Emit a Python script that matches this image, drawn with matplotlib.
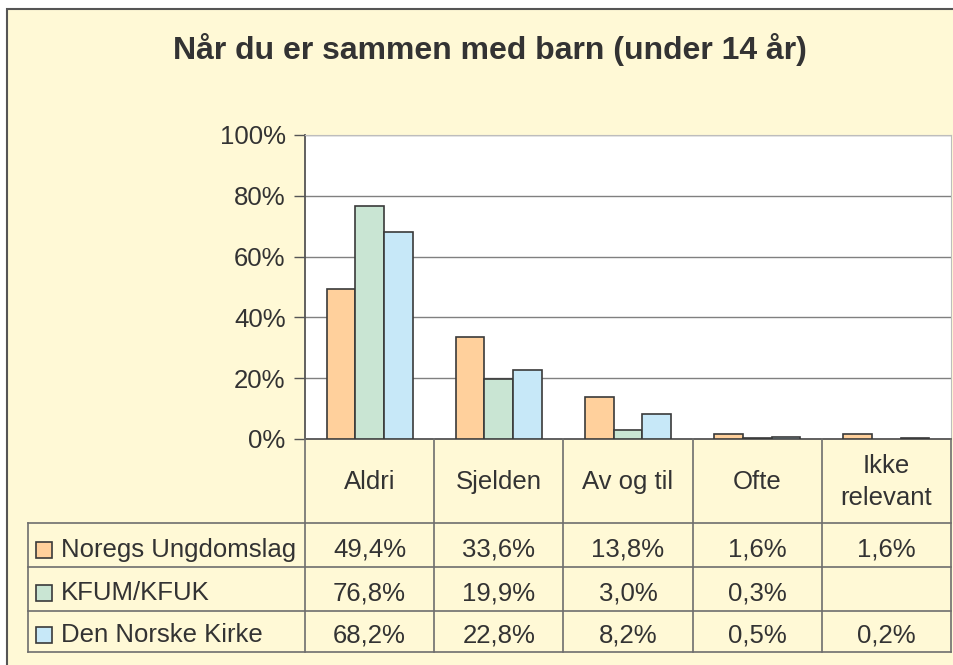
import numpy as np
import matplotlib.pyplot as plt
from matplotlib.patches import Rectangle
from matplotlib.lines import Line2D
from matplotlib.transforms import blended_transform_factory

# data
categories = ["Aldri", "Sjelden", "Av og til", "Ofte", "Ikke\nrelevant"]
series_names = ["Noregs Ungdomslag", "KFUM/KFUK", "Den Norske Kirke"]
noregs_ungdomslag = [49.4, 33.6, 13.8, 1.6, 1.6]
kfum_kfuk = [76.8, 19.9, 3.0, 0.3, np.nan]
den_norske_kirke = [68.2, 22.8, 8.2, 0.5, 0.2]
yticks = [0, 20, 40, 60, 80, 100]

series = [noregs_ungdomslag, kfum_kfuk, den_norske_kirke]
colors = ["#FFD09C", "#C9E5D3", "#C7E8F8"]
bg = "#FFF9D6"
txt = "#333333"
edge = "#3A3A3A"
fs = 18.5

plt.rcParams["font.family"] = ["Liberation Sans", "DejaVu Sans"]

W, H = 954, 665
fig = plt.figure(figsize=(W / 100, H / 100), dpi=100)
fig.patch.set_facecolor("white")

def fx(px):
    return px / W

def fy(py):
    return 1 - py / H

# outer frame
fig.add_artist(Rectangle((fx(7), fy(672)), fx(960) - fx(7), fy(9) - fy(672),
                         transform=fig.transFigure, facecolor=bg,
                         edgecolor="#555555", linewidth=1.5, zorder=0))

fig.text(fx(490), fy(50), "Når du er sammen med barn (under 14 år)",
         ha="center", va="center", fontsize=23, fontweight="bold", color=txt)

# plot area
ax = fig.add_axes([fx(305), fy(439), fx(951) - fx(305), fy(135) - fy(439)])
ax.set_facecolor("white")
x = np.arange(len(categories))
w = 1 / 4.5
for i, (vals, c) in enumerate(zip(series, colors)):
    ax.bar(x + (i - 1) * w, vals, width=w, color=c, edgecolor=edge,
           linewidth=1.2, zorder=3)

ax.set_xlim(-0.5, len(categories) - 0.5)
ax.set_ylim(0, 100)
ax.set_yticks(yticks)
ax.set_yticklabels([f"{t}%" for t in yticks], fontsize=fs, color=txt)
ax.set_xticks([])
ax.tick_params(axis="y", length=8, width=1, color="#555555", pad=6)
ax.grid(axis="y", color="#808080", linewidth=1, zorder=0)
ax.spines["left"].set_color("#555555")
ax.spines["left"].set_linewidth(1.3)
ax.spines["bottom"].set_color("#555555")
ax.spines["bottom"].set_linewidth(1.3)
ax.spines["top"].set_color("#BDBDBD")
ax.spines["right"].set_color("#BDBDBD")

# data table under the chart
tr = blended_transform_factory(ax.transData, fig.transFigure)
line_c = "#6E6E6E"
row_lines = [523, 567, 611, 652]
row_mid = [550, 593, 635]
left_px = 28

for b in np.arange(len(categories) + 1) - 0.5:
    fig.add_artist(Line2D([b, b], [fy(439), fy(652)], transform=tr,
                          color=line_c, linewidth=1.2))
for py in row_lines:
    fig.add_artist(Line2D([fx(left_px), fx(951)], [fy(py), fy(py)],
                          transform=fig.transFigure, color=line_c, linewidth=1.2))
fig.add_artist(Line2D([fx(left_px), fx(left_px)], [fy(523), fy(652)],
                      transform=fig.transFigure, color=line_c, linewidth=1.2))

for xi, cat in zip(x, categories):
    fig.text(xi, fy(482), cat, transform=tr, ha="center", va="center",
             fontsize=fs, color=txt, linespacing=1.4)

for name, vals, c, ym in zip(series_names, series, colors, row_mid):
    fig.add_artist(Rectangle((fx(36), fy(ym + 8)), fx(16), 16 / H,
                             transform=fig.transFigure, facecolor=c,
                             edgecolor=edge, linewidth=1.2))
    fig.text(fx(61), fy(ym), name, ha="left", va="center", fontsize=fs, color=txt)
    for xi, v in zip(x, vals):
        if np.isnan(v):
            continue
        label = f"{v:.1f}".replace(".", ",") + "%"
        fig.text(xi, fy(ym), label, transform=tr, ha="center", va="center",
                 fontsize=fs, color=txt)

fig.savefig("out.png", dpi=100)
